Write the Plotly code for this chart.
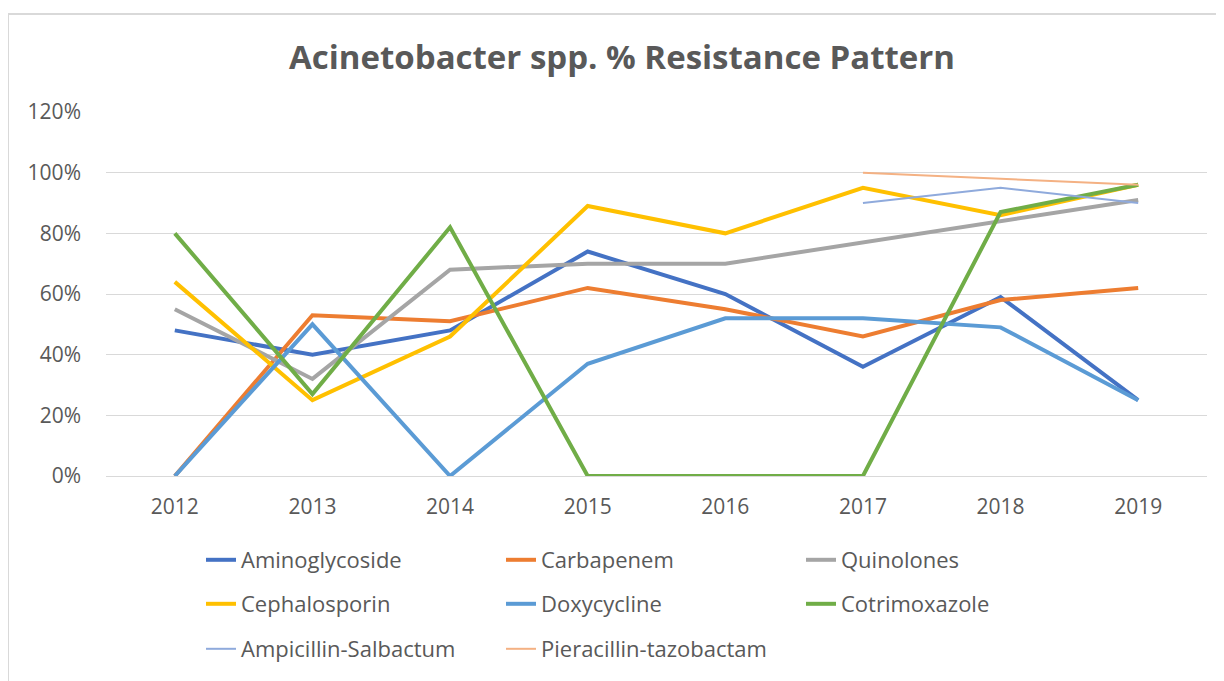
import plotly.graph_objects as go

years = ["2012", "2013", "2014", "2015", "2016", "2017", "2018", "2019"]
aminoglycoside = [48, 40, 48, 74, 60, 36, 59, 25]
carbapenem = [0, 53, 51, 62, 55, 46, 58, 62]
quinolones = [55, 32, 68, 70, 70, 77, 84, 91]
cephalosporin = [64, 25, 46, 89, 80, 95, 86, 96]
doxycycline = [0, 50, 0, 37, 52, 52, 49, 25]
cotrimoxazole = [80, 27, 82, 0, 0, 0, 87, 96]
ampicillin_salbactum = [None, None, None, None, None, 90, 95, 90]
pieracillin_tazobactam = [None, None, None, None, None, 100, 98, 96]

series = [
    ("Aminoglycoside", aminoglycoside, "#4472C4", 4, "legend"),
    ("Carbapenem", carbapenem, "#ED7D31", 4, "legend"),
    ("Quinolones", quinolones, "#A5A5A5", 4, "legend"),
    ("Cephalosporin", cephalosporin, "#FFC000", 4, "legend2"),
    ("Doxycycline", doxycycline, "#5B9BD5", 4, "legend2"),
    ("Cotrimoxazole", cotrimoxazole, "#70AD47", 4, "legend2"),
    ("Ampicillin-Salbactum", ampicillin_salbactum, "#8FAADC", 2, "legend3"),
    ("Pieracillin-tazobactam", pieracillin_tazobactam, "#F4B183", 2, "legend3"),
]

fig = go.Figure()
for name, vals, color, w, lg in series:
    fig.add_trace(go.Scatter(
        x=years,
        y=[None if v is None else v / 100 for v in vals],
        mode="lines",
        name=name,
        line=dict(color=color, width=w),
        connectgaps=False,
        legend=lg,
    ))

font_family = "Open Sans, Noto Sans, sans-serif"
txt = "#595959"

W, H = 1216, 673
OFF = 8  # page body margin

legend_common = dict(
    orientation="h",
    xref="container",
    yref="container",
    x=193 / W,
    xanchor="left",
    yanchor="middle",
    entrywidth=255,
    entrywidthmode="pixels",
    font=dict(family=font_family, size=22, color=txt),
    bgcolor="rgba(0,0,0,0)",
    itemclick=False,
)

l, r_edge, t, b_edge = 106 - OFF, 1207 - OFF, 112 - OFF, 476 - OFF
pw, ph = r_edge - l, b_edge - t

fig.update_layout(
    width=W,
    height=H,
    paper_bgcolor="white",
    plot_bgcolor="white",
    margin=dict(l=l, r=W - r_edge, t=t, b=H - b_edge),
    title=dict(
        text="<b>Acinetobacter spp. % Resistance Pattern</b>",
        x=(622 - OFF - l) / pw,
        xanchor="center",
        xref="paper",
        yref="container",
        y=1 - (57 - OFF) / H,
        yanchor="middle",
        font=dict(family=font_family, size=33, color=txt),
    ),
    legend=dict(**legend_common, y=1 - (560 - OFF) / H),
    legend2=dict(**legend_common, y=1 - (604 - OFF) / H),
    legend3=dict(**legend_common, y=1 - (649 - OFF) / H),
    xaxis=dict(
        type="category",
        range=[-0.5, 7.5],
        showgrid=False,
        showline=False,
        zeroline=False,
        ticks="",
        tickfont=dict(family=font_family, size=21, color=txt),
        ticklabelstandoff=16,
    ),
    yaxis=dict(
        range=[0, 1.2],
        dtick=0.2,
        tickformat=".0%",
        showgrid=True,
        gridcolor="#D9D9D9",
        gridwidth=1,
        zeroline=True,
        zerolinecolor="#D9D9D9",
        zerolinewidth=1,
        showline=False,
        ticks="",
        tickfont=dict(family=font_family, size=21, color=txt),
        ticklabelstandoff=24,
    ),
    shapes=[
        dict(
            type="rect",
            xref="paper",
            yref="paper",
            x0=(8 - OFF - l) / pw,
            x1=(1240 - l) / pw,
            y0=(b_edge - 700) / ph,
            y1=(b_edge - (14 - OFF)) / ph,
            line=dict(color="#D9D9D9", width=2),
            fillcolor="rgba(0,0,0,0)",
            layer="below",
        )
    ],
)

fig.write_html("out.html")
